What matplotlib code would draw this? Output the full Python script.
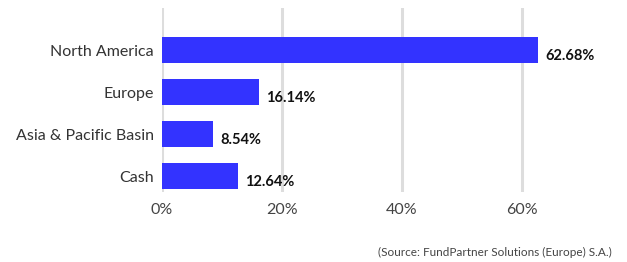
import matplotlib
matplotlib.use('Agg')
import matplotlib.pyplot as plt

# data
regions = ['North America', 'Europe', 'Asia & Pacific Basin', 'Cash']
shares = [62.68, 16.14, 8.54, 12.64]
xticks = [0, 20, 40, 60]
source = '(Source: FundPartner Solutions (Europe) S.A.)'

plt.rcParams['font.family'] = ['Lato', 'DejaVu Sans']

fig = plt.figure(figsize=(6.27, 2.62), dpi=100)
ax = fig.add_axes([162/627, 1-192/262, 450/627, 184/262])

ypos = list(range(len(regions)))
ax.barh(ypos, shares, height=0.62, color='#3333ff', zorder=2)
for y, v in zip(ypos, shares):
    ax.annotate(f'{v:.2f}%', (v, y), xytext=(5, -4), textcoords='offset points',
                ha='left', va='center', fontsize=10.5, fontweight='bold', color='#111111')

ax.set_xlim(0, 75)
ax.set_ylim(3.38, -1)
ax.set_xticks(xticks)
ax.set_xticklabels([f'{t}%' for t in xticks], fontsize=11.5, color='#444444')
ax.set_yticks(ypos)
ax.set_yticklabels(regions, fontsize=11.5, color='#333333')
ax.tick_params(length=0)
ax.tick_params(axis='x', pad=8)
ax.tick_params(axis='y', pad=6)
for t in xticks:
    ax.axvline(t, color='#dddddd', lw=2.2, zorder=1)
for s in ax.spines.values():
    s.set_visible(False)

fig.text(612/627, 1-252/262, source, ha='right', va='center', fontsize=8.5, color='#444444')

fig.savefig('out.png', dpi=100)
